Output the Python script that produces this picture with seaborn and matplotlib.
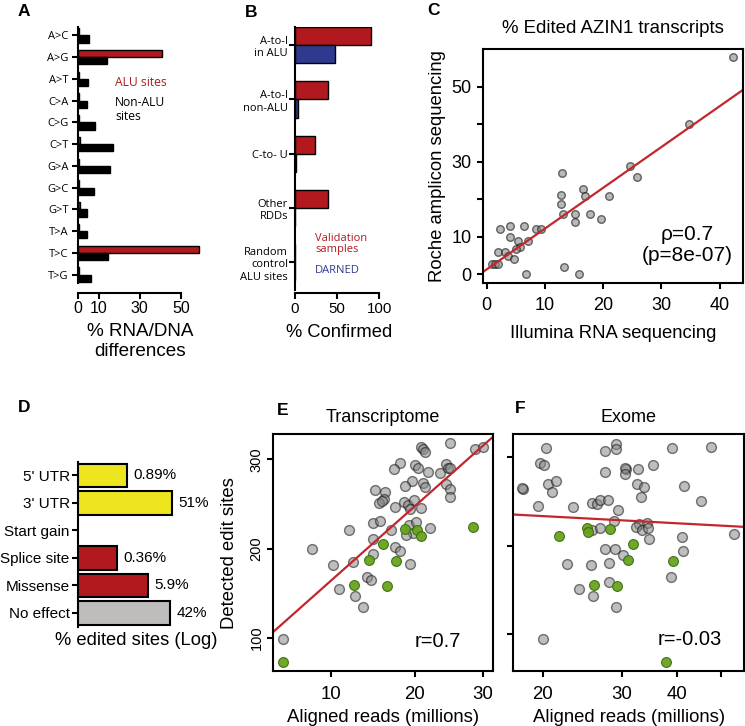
import numpy as np
import pandas as pd
import matplotlib
matplotlib.use("Agg")
import matplotlib.pyplot as plt
from matplotlib.ticker import NullLocator
import seaborn as sns

# ---------------- data ----------------
# A: RNA/DNA differences by substitution type
subst_types = ["A>C", "A>G", "A>T", "C>A", "C>G", "C>T",
               "G>A", "G>C", "G>T", "T>A", "T>C", "T>G"]
alu_pct = [0.3, 41, 0.5, 0.5, 0.5, 0.6, 0.5, 0.5, 0.6, 0.4, 59, 0.4]
nonalu_pct = [5.4, 13.8, 4.6, 4.1, 8.1, 16.7, 15.4, 7.6, 4.1, 4.4, 14.6, 6.2]

# B: fraction of sites confirmed
rdd_classes = ["A-to-I\nin ALU", "A-to-I\nnon-ALU", "C-to- U", "Other\nRDDs",
               "Random\ncontrol\nALU sites"]
validation_pct = [90, 39, 24, 39, 0]
darned_pct = [47, 4, 1, 0.5, 0]

# C: AZIN1 editing, Illumina vs Roche amplicon
illumina_pct = [42.3, 34.7, 24.6, 25.8, 13.0, 16.6, 16.9, 21.0, 12.8, 12.7,
                13.1, 15.2, 15.2, 17.8, 19.6, 2.3, 4.0, 6.4, 8.45, 9.3,
                4.0, 5.3, 7.1, 5.7, 5.0, 2.0, 3.1, 3.6, 4.6, 0.9,
                1.4, 1.9, 13.3, 6.7, 15.8]
roche_pct = [58.0, 40.0, 29.0, 26.0, 27.1, 22.9, 21.0, 21.0, 21.1, 18.9,
             16.1, 16.1, 14.0, 16.1, 14.9, 12.0, 12.9, 12.9, 12.0, 12.0,
             9.9, 9.0, 9.0, 7.2, 6.7, 6.0, 6.0, 4.9, 4.0, 2.9,
             2.9, 2.9, 1.9, 0.0, 0.0]
c_fit = (1.35, 1.088)  # intercept, slope

# D: predicted effect of edited sites
effects = ["5' UTR", "3' UTR", "Start gain", "Splice site", "Missense", "No effect"]
effect_pct = [0.89, 51, np.nan, 0.36, 5.9, 42]
effect_labels = ["0.89%", "51%", "", "0.36%", "5.9%", "42%"]

# E: transcriptome, aligned reads vs detected sites
e_reads = [20.9, 21.2, 21.4, 25.0, 28.7, 30.1, 18.1, 17.3, 20.0, 20.4,
           21.8, 23.5, 24.4, 24.7, 25.0, 19.6, 18.8, 21.2, 21.4, 24.4,
           25.0, 25.0, 15.0, 16.2, 16.1, 15.5, 15.9, 17.4, 18.6, 19.1,
           19.9, 19.4, 20.9, 14.7, 15.6, 12.0, 17.0, 19.3, 20.2, 22.1,
           19.8, 18.9, 14.8, 17.4, 18.1, 8.0, 14.7, 10.2, 12.4, 19.4,
           14.1, 14.5, 10.9, 12.7, 13.6, 5.2]
e_sites = [313.5, 311, 308.5, 318, 312, 314, 296, 289, 293.6, 290,
           286, 284.3, 294.4, 290.6, 290, 276, 270, 273, 269, 272.3,
           266.4, 258, 265.6, 263, 255, 251.3, 253.6, 247, 252.5, 248.8,
           254.4, 244, 245, 229, 231, 220.7, 220.7, 226.3, 230, 223.3,
           217, 215, 210.3, 201.3, 197.5, 199.4, 193.8, 181.5, 184.5, 182.3,
           168, 164.5, 154.3, 147, 134, 98.5]
e_reads_green = [18.7, 20.3, 20.9, 28.5, 16.0, 14.3, 17.6, 12.5, 16.5, 5.2]
e_sites_green = [222.2, 220.7, 214, 224, 205, 187, 186, 159, 158.3, 72.5]
e_fit = (-1211.8, 858.7)  # intercept, slope against log10(reads + 30)

# F: exome, aligned reads vs detected sites
f_reads = [20.3, 19.7, 20.1, 18.1, 18.0, 20.6, 21.4, 21.0, 19.5, 23.4,
           27.6, 29.2, 29.2, 27.6, 30.7, 30.6, 30.5, 32.6, 35.3, 32.5,
           33.7, 33.2, 38.9, 47.6, 41.4, 45.2, 25.8, 26.4, 26.8, 28.0,
           29.5, 28.9, 32.8, 34.2, 32.3, 33.4, 34.4, 34.6, 25.8, 26.8,
           41.0, 41.1, 53.6, 27.5, 29.0, 30.3, 22.7, 25.6, 28.2, 38.7,
           24.1, 25.9, 28.2, 29.2, 20.0]
f_sites = [310.6, 293.7, 290.7, 263.6, 264.5, 269.3, 273, 260, 244.8, 243.7,
           306.4, 315, 309.5, 283, 287, 288, 281.3, 286, 290.7, 269.3,
           266.2, 255, 310.6, 311.3, 267, 250.4, 248.6, 246.7, 251.2, 252,
           240, 228, 225, 225.7, 221.2, 217.5, 219.4, 207, 217.5, 219.4,
           210, 194.2, 212.9, 196.8, 196, 190, 178.8, 178, 180.6, 164.9,
           150.7, 143.5, 159.2, 130.4, 94.7]
f_reads_green = [21.7, 25.1, 25.2, 28.3, 31.9, 31.0, 39.0, 26.0, 29.3, 37.7]
f_sites_green = [210.7, 220.5, 215.5, 218.6, 201.7, 183.7, 182.6, 155.5, 154.7, 68.5]
f_fit = (268.5, -27.0)  # intercept, slope against log10(reads)

# ---------------- style ----------------
RED = "#B2191F"
LINE_RED = "#C1272D"
BLUE = "#2E3A8E"
YELLOW = "#EDE61F"
GREY_BAR = "#BEBDBC"
PT_GREY = "#8A8A8A"
PT_GREEN = "#67A31F"
E_SHIFT = 30

sns.set_theme(style="ticks")
plt.rcParams["font.family"] = ["Liberation Sans", "DejaVu Sans"]
plt.rcParams.update({
    "axes.linewidth": 1.5, "xtick.major.width": 1.5, "ytick.major.width": 1.5,
    "xtick.major.size": 4, "ytick.major.size": 4,
    "axes.labelsize": 13.3, "xtick.labelsize": 13, "ytick.labelsize": 13,
    "axes.edgecolor": "black", "xtick.color": "black", "ytick.color": "black",
    "text.color": "black", "axes.labelcolor": "black",
})

W, H = 745, 726
fig = plt.figure(figsize=(W / 100, H / 100), dpi=100)


def add_ax(left, top, right, bottom):
    return fig.add_axes([left / W, 1 - bottom / H, (right - left) / W, (bottom - top) / H])


def humanist_labels(ax, size):
    for lab in ax.get_yticklabels():
        lab.set_fontfamily(["Open Sans", "DejaVu Sans"])
        lab.set_fontsize(size)


# ---------------- A ----------------
ax_a = add_ax(78.3, 26.7, 201.3, 283.3)
df_a = pd.DataFrame({
    "subst": subst_types * 2,
    "set": ["ALU"] * len(subst_types) + ["Non-ALU"] * len(subst_types),
    "pct": alu_pct + nonalu_pct,
})
sns.barplot(df_a, y="subst", x="pct", hue="set", orient="h", width=0.66,
            palette={"ALU": RED, "Non-ALU": "black"}, saturation=1,
            edgecolor="black", linewidth=1, errorbar=None, legend=False, ax=ax_a)
ax_a.set_ylim(11.4, -0.4)
ax_a.set_xlim(0, 60)
ax_a.set_xticks([0, 10, 30, 50])
sns.despine(ax=ax_a)
ax_a.spines["bottom"].set_position(("outward", 7))
ax_a.spines["bottom"].set_bounds(0, 50)
ax_a.tick_params(axis="x", labelsize=11.5, pad=2)
ax_a.tick_params(axis="y", pad=3)
humanist_labels(ax_a, 8)
ax_a.set_ylabel("")
ax_a.set_xlabel("% RNA/DNA\ndifferences", fontsize=13.6, labelpad=5)
ax_a.text(17.9, 2.18, "ALU sites", color=RED, va="center", fontsize=8.7,
          family=["Open Sans", "DejaVu Sans"])
ax_a.text(17.9, 3.40, "Non-ALU\nsites", color="black", va="center", fontsize=8.7,
          linespacing=1.05, family=["Open Sans", "DejaVu Sans"])
for p in ax_a.patches:
    p.set_clip_on(False)

# ---------------- B ----------------
ax_b = add_ax(295, 26.7, 383.5, 290)
df_b = pd.DataFrame({
    "cls": rdd_classes * 2,
    "set": ["Validation"] * len(rdd_classes) + ["DARNED"] * len(rdd_classes),
    "pct": validation_pct + darned_pct,
})
sns.barplot(df_b, y="cls", x="pct", hue="set", orient="h", width=0.67,
            palette={"Validation": RED, "DARNED": BLUE}, saturation=1,
            edgecolor="black", linewidth=1, errorbar=None, legend=False, ax=ax_b)
ax_b.set_ylim(4.51, -0.34)
ax_b.set_xlim(0, 105)
ax_b.set_xticks([0, 50, 100])
sns.despine(ax=ax_b)
ax_b.spines["bottom"].set_position(("outward", 2.5))
ax_b.spines["bottom"].set_bounds(0, 100)
ax_b.tick_params(axis="x", labelsize=10.8, pad=2)
ax_b.tick_params(axis="y", pad=1)
humanist_labels(ax_b, 8)
ax_b.set_ylabel("")
ax_b.set_xlabel("% Confirmed", fontsize=13.2, labelpad=6)
ax_b.text(23.7, 3.66, "Validation\nsamples", color=RED, va="center", fontsize=8,
          linespacing=1.05, family=["Open Sans", "DejaVu Sans"])
ax_b.text(23.7, 4.16, "DARNED", color=BLUE, va="center", fontsize=8,
          family=["Open Sans", "DejaVu Sans"])

# ---------------- C ----------------
ax_c = add_ax(482.7, 48.7, 743, 283)
sns.scatterplot(x=illumina_pct, y=roche_pct, s=30, color=PT_GREY, alpha=0.6,
                edgecolor="#111111", linewidth=1, ax=ax_c)
ax_c.axline((0, c_fit[0]), slope=c_fit[1], color=LINE_RED, lw=1.6)
ax_c.set_xlim(-0.7, 44)
ax_c.set_ylim(-2.3, 60.2)
ax_c.set_xticks([0, 10, 20, 30, 40])
ax_c.set_yticks([0, 10, 20, 30, 40, 50], ["0", "10", "", "30", "", "50"])
ax_c.tick_params(axis="x", pad=6)
ax_c.tick_params(axis="y", pad=4)
ax_c.set_xlabel("Illumina RNA sequencing", labelpad=8)
ax_c.set_ylabel("Roche amplicon sequencing", labelpad=4)
ax_c.set_title("% Edited AZIN1 transcripts", fontsize=13.4, pad=11)
ax_c.text(0.787, 0.163, "\u03c1=0.7\n(p=8e-07)", transform=ax_c.transAxes,
          ha="center", va="center", fontsize=15, linespacing=1.15)

# ---------------- D ----------------
ax_d = add_ax(78, 461.7, 213.5, 626.7)
ax_d.set_xscale("log")
df_d = pd.DataFrame({"effect": effects, "pct": effect_pct})
sns.barplot(df_d, y="effect", x="pct", hue="effect", order=effects, hue_order=effects,
            palette={"5' UTR": YELLOW, "3' UTR": YELLOW, "Start gain": YELLOW,
                     "Splice site": RED, "Missense": RED, "No effect": GREY_BAR},
            saturation=1, orient="h", width=0.85, edgecolor="black", linewidth=1.5,
            errorbar=None, legend=False, ax=ax_d)
ax_d.set_xlim(0.0105, 2100)
ax_d.set_ylim(5.5, -0.5)
for i, (v, lab) in enumerate(zip(effect_pct, effect_labels)):
    if lab:
        ax_d.annotate(lab, (v, i), xytext=(4.5, 0), textcoords="offset points",
                      va="center", fontsize=11)
sns.despine(ax=ax_d, bottom=True)
ax_d.tick_params(axis="x", which="both", length=0, labelbottom=False)
ax_d.tick_params(axis="y", labelsize=11, pad=2)
ax_d.set_ylabel("")
ax_d.set_xlabel("% edited sites (Log)", fontsize=13.2)
ax_d.xaxis.set_label_coords(0.427, -0.035)


# ---------------- E ----------------
def e_fwd(x):
    return np.log10(np.asarray(x, dtype=float) + E_SHIFT)


def e_inv(t):
    return 10 ** np.asarray(t, dtype=float) - E_SHIFT


ax_e = add_ax(273.3, 434.3, 492.7, 671)
ax_e.set_xscale("function", functions=(e_fwd, e_inv))
sns.scatterplot(x=e_reads, y=e_sites, s=50, color=PT_GREY, alpha=0.55,
                edgecolor="#111111", linewidth=1, ax=ax_e)
sns.scatterplot(x=e_reads_green, y=e_sites_green, s=50, color=PT_GREEN, alpha=0.95,
                edgecolor="#3F6E12", linewidth=0.8, ax=ax_e)
e_lim = (4.3, 31.6)
xs = e_inv(np.linspace(e_fwd(e_lim[0]), e_fwd(e_lim[1]), 50))
ax_e.plot(xs, e_fit[0] + e_fit[1] * e_fwd(xs), color=LINE_RED, lw=1.6)
ax_e.set_xlim(*e_lim)
ax_e.set_ylim(62.7, 328)
ax_e.set_xticks([10, 20, 30], ["10", "20", "30"])
ax_e.xaxis.set_minor_locator(NullLocator())
ax_e.set_yticks([100, 200, 300], ["100", "200", "300"])
ax_e.tick_params(axis="x", labelsize=13.4, pad=7)
ax_e.tick_params(axis="y", labelsize=10.5, labelrotation=90, pad=3)
for lab in ax_e.get_yticklabels():
    lab.set_va("center")
ax_e.set_xlabel("Aligned reads (millions)", labelpad=4)
ax_e.set_ylabel("Detected edit sites", labelpad=8)
ax_e.set_title("Transcriptome", fontsize=13, pad=9)
ax_e.text(0.751, 0.124, "r=0.7", transform=ax_e.transAxes, ha="center",
          va="center", fontsize=14.5)

# ---------------- F ----------------
ax_f = add_ax(513.3, 434.3, 744, 671)
ax_f.set_xscale("log")
sns.scatterplot(x=f_reads, y=f_sites, s=50, color=PT_GREY, alpha=0.55,
                edgecolor="#111111", linewidth=1, ax=ax_f)
sns.scatterplot(x=f_reads_green, y=f_sites_green, s=50, color=PT_GREEN, alpha=0.95,
                edgecolor="#3F6E12", linewidth=0.8, ax=ax_f)
f_lim = (17.2, 56.3)
xs = np.logspace(np.log10(f_lim[0]), np.log10(f_lim[1]), 50)
ax_f.plot(xs, f_fit[0] + f_fit[1] * np.log10(xs), color=LINE_RED, lw=1.6)
ax_f.set_xlim(*f_lim)
ax_f.set_ylim(58.7, 325.6)
ax_f.set_xticks([20, 30, 40, 50], ["20", "30", "40", ""])
ax_f.xaxis.set_minor_locator(NullLocator())
ax_f.set_yticks([100, 200, 300], ["", "", ""])
ax_f.tick_params(axis="x", labelsize=13.4, pad=7)
ax_f.set_xlabel("Aligned reads (millions)", labelpad=4)
ax_f.set_title("Exome", fontsize=13, pad=9)
ax_f.text(0.763, 0.131, "r=-0.03", transform=ax_f.transAxes, ha="center",
          va="center", fontsize=14.5)

# panel letters
for letter, (x, y) in {"A": (18, 4), "B": (245, 5), "C": (427, 3),
                       "D": (18, 400), "E": (277, 403), "F": (515, 401)}.items():
    fig.text(x / W, 1 - y / H, letter, fontsize=12.5, fontweight="bold",
             ha="left", va="top")

fig.savefig("out.png", dpi=100, facecolor="white")
